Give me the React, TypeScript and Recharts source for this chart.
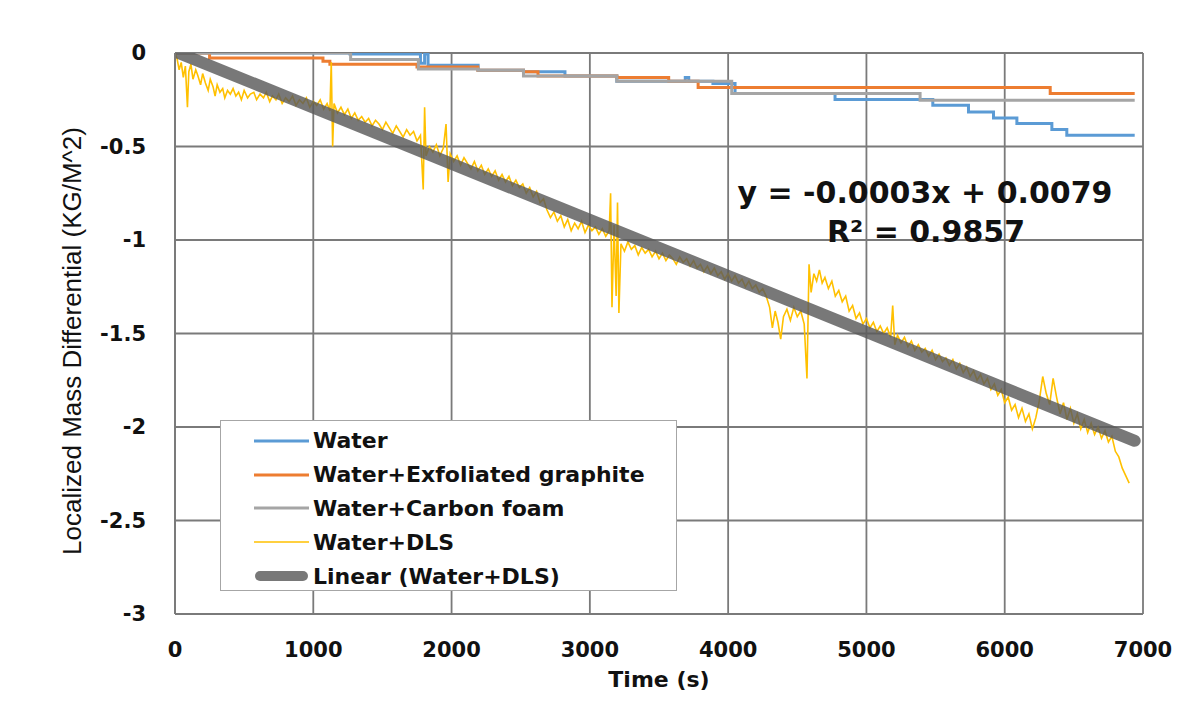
import React from 'react';
import { LineChart, Line, XAxis, YAxis, CartesianGrid, Legend } from 'recharts';

// ---------- data ----------
const xTicks = [0, 1000, 2000, 3000, 4000, 5000, 6000, 7000];
const yTicks = [0, -0.5, -1, -1.5, -2, -2.5, -3];

const seriesNames = [
  'Water',
  'Water+Exfoliated graphite',
  'Water+Carbon foam',
  'Water+DLS',
  'Linear (Water+DLS)',
];

const waterTime = [0, 1265, 1775, 1805, 1830, 2192, 2520, 2820, 3195, 3690, 3715, 3890, 4050, 4773, 5480, 5738, 5919, 6088, 6341, 6449, 6940];
const waterMass = [0, -0.005, -0.055, -0.005, -0.066, -0.092, -0.1, -0.123, -0.151, -0.131, -0.151, -0.163, -0.217, -0.249, -0.279, -0.315, -0.347, -0.377, -0.409, -0.44, -0.44];

const graphiteTime = [0, 250, 1070, 1120, 1750, 2190, 2520, 2625, 3195, 3570, 3783, 6329, 6940];
const graphiteMass = [0, -0.027, -0.044, -0.06, -0.075, -0.092, -0.1, -0.123, -0.131, -0.151, -0.185, -0.217, -0.217];

const foamTime = [0, 1270, 1760, 2192, 2520, 3195, 4026, 5388, 6940];
const foamMass = [0, -0.035, -0.085, -0.092, -0.123, -0.151, -0.217, -0.253, -0.253];

// [time (s), mass differential] read from the noisy Water+DLS trace
const dlsReadings: [number, number][] = [
  [0, 0], [15, -0.03], [30, -0.09], [45, -0.05], [60, -0.13], [75, -0.07], [90, -0.29], [100, -0.1], [115, -0.06], [130, -0.14],
  [150, -0.09], [165, -0.12], [185, -0.17], [200, -0.11], [220, -0.16], [240, -0.2], [255, -0.14], [275, -0.18], [290, -0.23], [305, -0.17],
  [325, -0.21], [345, -0.19], [360, -0.24], [380, -0.2], [400, -0.22], [420, -0.19], [440, -0.23], [460, -0.21], [480, -0.25], [500, -0.2],
  [525, -0.24], [545, -0.22], [570, -0.21], [590, -0.25], [615, -0.22], [640, -0.24], [660, -0.21], [685, -0.26], [705, -0.23], [730, -0.25],
  [750, -0.22], [775, -0.27], [800, -0.24], [825, -0.26], [850, -0.23], [875, -0.28], [900, -0.25], [925, -0.27], [950, -0.24], [975, -0.29],
  [1000, -0.26], [1025, -0.28], [1050, -0.25], [1075, -0.3], [1100, -0.27], [1120, -0.31], [1130, -0.05], [1140, -0.5], [1150, -0.27], [1175, -0.32],
  [1200, -0.29], [1225, -0.33], [1250, -0.3], [1275, -0.35], [1300, -0.32], [1325, -0.36], [1350, -0.34], [1375, -0.37], [1400, -0.35], [1425, -0.39],
  [1450, -0.36], [1475, -0.38], [1500, -0.41], [1525, -0.37], [1550, -0.4], [1575, -0.43], [1600, -0.39], [1625, -0.42], [1650, -0.45], [1675, -0.41],
  [1700, -0.44], [1725, -0.42], [1750, -0.47], [1775, -0.44], [1795, -0.73], [1805, -0.29], [1815, -0.55], [1840, -0.5], [1865, -0.53], [1890, -0.49],
  [1915, -0.55], [1940, -0.51], [1960, -0.38], [1975, -0.69], [1990, -0.54], [2015, -0.58], [2040, -0.55], [2065, -0.6], [2090, -0.56], [2115, -0.59],
  [2140, -0.62], [2165, -0.58], [2190, -0.63], [2215, -0.6], [2240, -0.65], [2265, -0.62], [2290, -0.66], [2315, -0.63], [2340, -0.68], [2365, -0.65],
  [2390, -0.69], [2415, -0.66], [2440, -0.71], [2465, -0.68], [2490, -0.72], [2515, -0.7], [2540, -0.75], [2565, -0.72], [2590, -0.77], [2615, -0.74],
  [2640, -0.8], [2665, -0.78], [2690, -0.84], [2715, -0.88], [2740, -0.85], [2765, -0.9], [2790, -0.87], [2815, -0.93], [2840, -0.89], [2865, -0.95],
  [2890, -0.91], [2915, -0.94], [2940, -0.9], [2965, -0.96], [2990, -0.92], [3015, -0.95], [3040, -0.93], [3065, -0.97], [3090, -0.94], [3115, -0.98],
  [3140, -0.95], [3150, -0.75], [3160, -1.36], [3175, -0.92], [3190, -1.3], [3200, -0.8], [3210, -1.39], [3225, -1.02], [3250, -1.06], [3275, -1.01],
  [3300, -1.05], [3325, -1.03], [3350, -1.08], [3375, -1.04], [3400, -1.07], [3425, -1.05], [3450, -1.09], [3475, -1.06], [3500, -1.1], [3525, -1.07],
  [3550, -1.11], [3575, -1.08], [3600, -1.1], [3625, -1.13], [3650, -1.09], [3675, -1.12], [3700, -1.1], [3725, -1.14], [3750, -1.11], [3775, -1.15],
  [3800, -1.13], [3825, -1.17], [3850, -1.14], [3875, -1.18], [3900, -1.15], [3925, -1.19], [3950, -1.17], [3975, -1.21], [4000, -1.18], [4025, -1.22],
  [4050, -1.19], [4075, -1.23], [4100, -1.21], [4125, -1.25], [4150, -1.22], [4175, -1.26], [4200, -1.24], [4225, -1.28], [4250, -1.26], [4275, -1.3],
  [4300, -1.36], [4320, -1.47], [4340, -1.38], [4360, -1.44], [4380, -1.53], [4400, -1.41], [4425, -1.37], [4450, -1.43], [4475, -1.36], [4500, -1.41],
  [4525, -1.38], [4550, -1.45], [4570, -1.74], [4585, -1.13], [4600, -1.28], [4620, -1.18], [4640, -1.22], [4660, -1.16], [4680, -1.23], [4700, -1.2],
  [4725, -1.26], [4750, -1.22], [4775, -1.3], [4800, -1.27], [4825, -1.33], [4850, -1.3], [4875, -1.38], [4900, -1.35], [4925, -1.42], [4950, -1.39],
  [4975, -1.45], [5000, -1.42], [5025, -1.47], [5050, -1.44], [5075, -1.49], [5100, -1.46], [5125, -1.5], [5150, -1.47], [5175, -1.52], [5190, -1.35],
  [5205, -1.56], [5225, -1.51], [5250, -1.55], [5275, -1.52], [5300, -1.57], [5325, -1.54], [5350, -1.59], [5375, -1.56], [5400, -1.6], [5425, -1.58],
  [5450, -1.62], [5475, -1.59], [5500, -1.64], [5525, -1.61], [5550, -1.65], [5575, -1.63], [5600, -1.67], [5625, -1.64], [5650, -1.69], [5675, -1.66],
  [5700, -1.71], [5725, -1.68], [5750, -1.73], [5775, -1.7], [5800, -1.75], [5825, -1.72], [5850, -1.77], [5875, -1.74], [5900, -1.8], [5925, -1.77],
  [5950, -1.83], [5975, -1.8], [6000, -1.87], [6025, -1.84], [6050, -1.91], [6075, -1.88], [6100, -1.95], [6125, -1.9], [6150, -1.97], [6175, -1.93],
  [6200, -2.01], [6225, -1.95], [6250, -1.86], [6275, -1.73], [6300, -1.82], [6325, -1.88], [6350, -1.74], [6375, -1.84], [6400, -1.93], [6425, -1.87],
  [6450, -1.96], [6475, -1.9], [6500, -1.98], [6525, -1.93], [6550, -2.01], [6575, -1.96], [6600, -2.03], [6625, -1.98], [6650, -2.04], [6675, -2.0],
  [6700, -2.06], [6725, -2.02], [6750, -2.08], [6775, -2.05], [6800, -2.13], [6825, -2.16], [6850, -2.22], [6875, -2.26], [6900, -2.3],
];

const trendTime = [0, 6940];
const trendMass = [0.0079, -2.074];

const equationLines = ['y = -0.0003x + 0.0079', 'R² = 0.9857'];
const xAxisTitle = 'Time (s)';
const yAxisTitle = 'Localized Mass Differential (KG/M^2)';

// ---------- helpers ----------
const toPoints = (t: number[], v: number[]) => t.map((x, i) => ({ x, y: v[i] }));

const colors = ['#5B9BD5', '#ED7D31', '#A5A5A5', '#FFC000', '#5a5a5a'];
const widths = [3, 3, 3, 1.6, 12];

const W = 1176;
const H = 695;
const FONT = "'DejaVu Sans', sans-serif";

const LegendBox = (props: any) => {
  const payload = props.payload || [];
  const ordered = seriesNames
    .map((n) => payload.find((p: any) => p.value === n))
    .filter(Boolean);
  return (
    <div
      style={{
        width: 457,
        height: 171,
        boxSizing: 'border-box',
        border: '1.5px solid #a6a6a6',
        background: '#fff',
        paddingTop: 3,
      }}
    >
      {ordered.map((p: any) => {
        const idx = seriesNames.indexOf(p.value);
        const w = widths[idx];
        return (
          <div key={p.value} style={{ display: 'flex', alignItems: 'center', height: 33.8 }}>
            <svg width={88} height={20} style={{ flex: 'none' }}>
              <line
                x1={idx === 4 ? 39 : 33}
                x2={idx === 4 ? 82 : 88}
                y1={10}
                y2={10}
                stroke={colors[idx]}
                strokeWidth={idx === 4 ? 10 : w}
                strokeOpacity={idx === 4 ? 0.82 : 1}
                strokeLinecap={idx === 4 ? 'round' : 'butt'}
              />
            </svg>
            <span
              style={{
                fontFamily: FONT,
                fontWeight: 'bold',
                fontSize: 22,
                color: '#111',
                marginLeft: 4,
                whiteSpace: 'nowrap',
              }}
            >
              {p.value}
            </span>
          </div>
        );
      })}
    </div>
  );
};

export default function App() {
  const seriesData = [
    toPoints(waterTime, waterMass),
    toPoints(graphiteTime, graphiteMass),
    toPoints(foamTime, foamMass),
    dlsReadings.map(([x, y]) => ({ x, y })),
    toPoints(trendTime, trendMass),
  ];
  const tickStyle = { fontFamily: FONT, fontWeight: 'bold' as const, fontSize: 21, fill: '#111' };
  return (
    <div style={{ position: 'relative', width: W, height: H, background: '#fff', boxSizing: 'border-box', outline: '1px solid #d9d9d9' }}>
      <LineChart width={W} height={H} margin={{ top: 45, right: 41, bottom: 29, left: 0 }}>
        <CartesianGrid stroke="#7a7a7a" strokeWidth={1.8} />
        <XAxis
          type="number"
          dataKey="x"
          domain={[0, 7000]}
          ticks={xTicks}
          allowDataOverflow
          height={60}
          tickLine={false}
          tickMargin={22}
          axisLine={{ stroke: '#7a7a7a', strokeWidth: 1.8 }}
          tick={tickStyle}
        />
        <YAxis
          type="number"
          dataKey="y"
          domain={[-3, 0]}
          ticks={yTicks}
          allowDataOverflow
          width={167}
          tickLine={false}
          tickMargin={23}
          axisLine={{ stroke: '#7a7a7a', strokeWidth: 1.8 }}
          tick={tickStyle}
        />
        <Legend
          layout="vertical"
          align="center"
          verticalAlign="middle"
          wrapperStyle={{ left: 212, top: 412, width: 457, height: 171 }}
          content={LegendBox}
        />
        {seriesData.map((d, i) => (
          <Line
            key={seriesNames[i]}
            name={seriesNames[i]}
            data={d}
            dataKey="y"
            type={i < 3 ? 'stepAfter' : 'linear'}
            stroke={colors[i]}
            strokeWidth={widths[i]}
            strokeOpacity={i === 4 ? 0.82 : 1}
            strokeLinecap={i === 4 ? 'round' : 'butt'}
            dot={false}
            activeDot={false}
            isAnimationActive={false}
          />
        ))}
      </LineChart>
      <svg
        width={W}
        height={H}
        style={{ position: 'absolute', left: 0, top: 0, pointerEvents: 'none' }}
      >
        <text x={917} y={195} textAnchor="middle" fontFamily={FONT} fontWeight="bold" fontSize={30} fill="#111">
          {equationLines[0]}
        </text>
        <text x={918} y={234} textAnchor="middle" fontFamily={FONT} fontWeight="bold" fontSize={30} fill="#111">
          {equationLines[1]}
        </text>
        <text x={651} y={679} textAnchor="middle" fontFamily={FONT} fontWeight="bold" fontSize={22} fill="#111">
          {xAxisTitle}
        </text>
        <text
          x={64}
          y={333}
          transform="rotate(-90, 64, 333)"
          textAnchor="middle"
          dominantBaseline="central"
          fontFamily="'Liberation Sans', Arial, sans-serif"
          fontSize={26}
          fill="#111"
        >
          {yAxisTitle}
        </text>
      </svg>
    </div>
  );
}
